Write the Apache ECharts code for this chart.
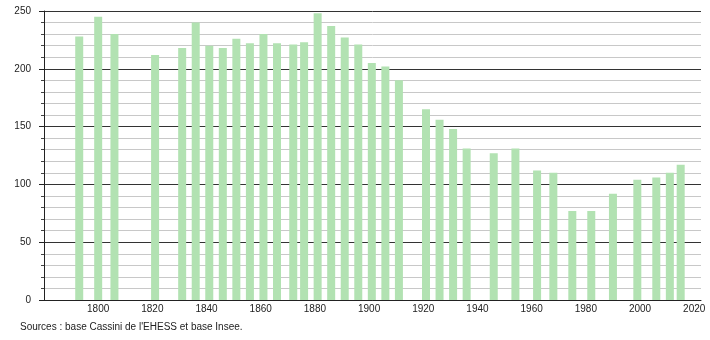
<!DOCTYPE html>
<html>
<head>
<meta charset="utf-8">
<script src="https://cdn.jsdelivr.net/npm/echarts@6/dist/echarts.min.js"></script>
<style>
html,body{margin:0;padding:0;background:#fff;}
#c{width:710px;height:340px;}
</style>
</head>
<body>
<div id="c"></div>
<script>
var years = [1793,1800,1806,1821,1831,1836,1841,1846,1851,1856,1861,1866,1872,1876,1881,1886,1891,1896,1901,1906,1911,1921,1926,1931,1936,1946,1954,1962,1968,1975,1982,1990,1999,2006,2011,2015];
var population = [228,245,230,212,218,240,220,218,226,222,230,222,221,223,248,237,227,221,205,202,190,165,156,148,131,127,131,112,110,77,77,92,104,106,110,117];
var yTicks = [0,50,100,150,200,250];
var sourceText = "Sources : base Cassini de l'EHESS et base Insee.";

var data = years.map(function(y,i){return [y, population[i]];});
var chart = echarts.init(document.getElementById('c'), null, {renderer:'canvas'});
chart.setOption({
  animation:false,
  backgroundColor:'#fff',
  grid:{left:44,right:9,top:11,bottom:40,containLabel:false},
  xAxis:{
    type:'value', min:1780, max:2022.5, interval:20,
    axisLine:{show:true,onZero:false,lineStyle:{color:'#222',width:1}},
    axisTick:{show:false},
    splitLine:{show:false},
    axisLabel:{showMinLabel:false,showMaxLabel:false,color:'#222',fontSize:10,fontFamily:'Liberation Sans, Arial, sans-serif',margin:4,
      formatter:function(v){return v===1780?'':String(v);}}
  },
  yAxis:{
    type:'value', min:yTicks[0], max:yTicks[yTicks.length-1], interval:50,
    axisLine:{show:true,lineStyle:{color:'#222',width:1}},
    axisTick:{show:true,length:5,lineStyle:{color:'#222'}},
    minorTick:{show:true,splitNumber:5,length:3,lineStyle:{color:'#444'}},
    splitLine:{show:true,lineStyle:{color:'#333',width:1}},
    minorSplitLine:{show:true,lineStyle:{color:'#c8c8c8',width:1}},
    axisLabel:{color:'#222',fontSize:10,fontFamily:'Liberation Sans, Arial, sans-serif',margin:13}
  },
  series:[{
    type:'bar', data:data, barWidth:8,
    itemStyle:{color:'#b2e2b2'},
    z:3
  }],
  graphic:[{
    type:'text', left:20, top:322,
    style:{text:sourceText, fill:'#222', font:'10px "Liberation Sans", Arial, sans-serif'}
  }]
});
</script>
</body>
</html>
